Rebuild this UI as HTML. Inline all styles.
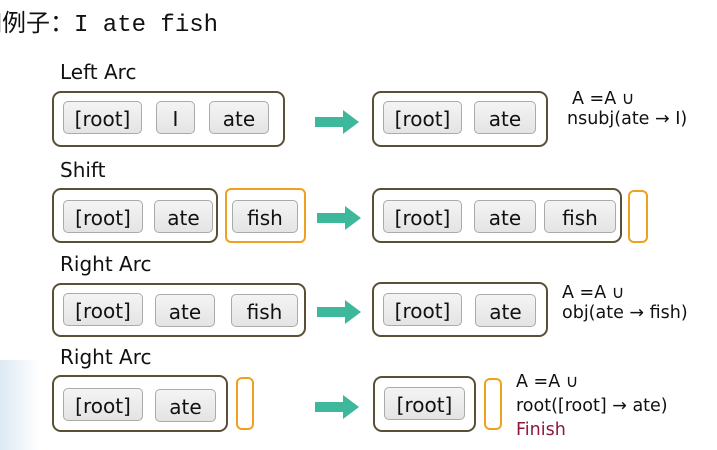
<!DOCTYPE html>
<html><head><meta charset="utf-8"><style>
*{margin:0;padding:0;box-sizing:border-box}
body{width:717px;height:450px;background:#fff;position:relative;overflow:hidden;font-family:"DejaVu Sans","Liberation Sans",sans-serif;color:#111}
.a{position:absolute}
.box{position:absolute;border:2.5px solid #5a5038;border-radius:9px}
.ob{position:absolute;border:2.5px solid #f0a020;border-radius:6px}
.c{position:absolute;border:1px solid #aaa;border-radius:5px;background:linear-gradient(#f4f4f4,#e4e4e4);font-size:20px;text-align:center;line-height:34px;height:33px}
.lab{position:absolute;font-size:20px}
.t{position:absolute;font-size:17.5px;white-space:nowrap}
.ar{position:absolute;width:44px;height:24px}
</style></head><body>
<div class="a" style="left:0;top:360px;width:40px;height:90px;background:linear-gradient(90deg,#dde9f3,#fff)"></div>
<div class="a" style="left:-22px;top:3px;font-size:24px;font-family:'Liberation Mono','Noto Sans CJK SC',monospace;white-space:nowrap">如例子：I ate fish</div>

<div class="lab" style="left:60px;top:60px">Left Arc</div>
<div class="box" style="left:52px;top:91px;width:233px;height:56px"></div>
<div class="c" style="left:63px;top:101px;width:79px">[root]</div>
<div class="c" style="left:156px;top:101px;width:39px">I</div>
<div class="c" style="left:209px;top:101px;width:60px">ate</div>
<svg class="ar" style="left:315px;top:110px" viewBox="0 0 44 24"><polygon points="0,7 28,7 28,0 44,12 28,24 28,17 0,17" fill="#3db89a"/></svg>
<div class="box" style="left:372px;top:91px;width:176px;height:56px"></div>
<div class="c" style="left:383px;top:101px;width:79px">[root]</div>
<div class="c" style="left:474px;top:101px;width:62px">ate</div>
<div class="t" style="left:572px;top:89px">A =A ∪</div>
<div class="t" style="left:567px;top:109px">nsubj(ate → I)</div>

<div class="lab" style="left:60px;top:158px">Shift</div>
<div class="box" style="left:52px;top:188px;width:166px;height:55px"></div>
<div class="c" style="left:63px;top:200px;width:80px">[root]</div>
<div class="c" style="left:154px;top:200px;width:59px">ate</div>
<div class="ob" style="left:225px;top:188px;width:81px;height:55px"></div>
<div class="c" style="left:232px;top:200px;width:66px">fish</div>
<svg class="ar" style="left:317px;top:206px" viewBox="0 0 44 24"><polygon points="0,7 28,7 28,0 44,12 28,24 28,17 0,17" fill="#3db89a"/></svg>
<div class="box" style="left:372px;top:188px;width:250px;height:55px"></div>
<div class="c" style="left:383px;top:200px;width:79px">[root]</div>
<div class="c" style="left:474px;top:200px;width:62px">ate</div>
<div class="c" style="left:544px;top:200px;width:72px">fish</div>
<div class="ob" style="left:628px;top:190px;width:20px;height:53px"></div>

<div class="lab" style="left:60px;top:252px">Right Arc</div>
<div class="box" style="left:52px;top:283px;width:254px;height:54px"></div>
<div class="c" style="left:63px;top:293px;width:80px">[root]</div>
<div class="c" style="left:155px;top:294px;width:60px">ate</div>
<div class="c" style="left:231px;top:294px;width:67px">fish</div>
<svg class="ar" style="left:317px;top:300px" viewBox="0 0 44 24"><polygon points="0,7 28,7 28,0 44,12 28,24 28,17 0,17" fill="#3db89a"/></svg>
<div class="box" style="left:372px;top:282px;width:176px;height:55px"></div>
<div class="c" style="left:383px;top:293px;width:79px">[root]</div>
<div class="c" style="left:475px;top:294px;width:61px">ate</div>
<div class="t" style="left:562px;top:283px">A =A ∪</div>
<div class="t" style="left:562px;top:303px">obj(ate → fish)</div>

<div class="lab" style="left:60px;top:345px">Right Arc</div>
<div class="box" style="left:52px;top:375px;width:176px;height:57px"></div>
<div class="c" style="left:63px;top:388px;width:80px">[root]</div>
<div class="c" style="left:155px;top:389px;width:61px">ate</div>
<div class="ob" style="left:236px;top:377px;width:18px;height:53px"></div>
<svg class="ar" style="left:315px;top:395px" viewBox="0 0 44 24"><polygon points="0,7 28,7 28,0 44,12 28,24 28,17 0,17" fill="#3db89a"/></svg>
<div class="box" style="left:373px;top:376px;width:103px;height:56px"></div>
<div class="c" style="left:384px;top:387px;width:81px">[root]</div>
<div class="ob" style="left:484px;top:378px;width:18px;height:52px"></div>
<div class="t" style="left:516px;top:372px">A =A ∪</div>
<div class="t" style="left:516px;top:396px">root([root] → ate)</div>
<div class="t" style="left:516px;top:420px;color:#8b1a3a">Finish</div>
</body></html>
